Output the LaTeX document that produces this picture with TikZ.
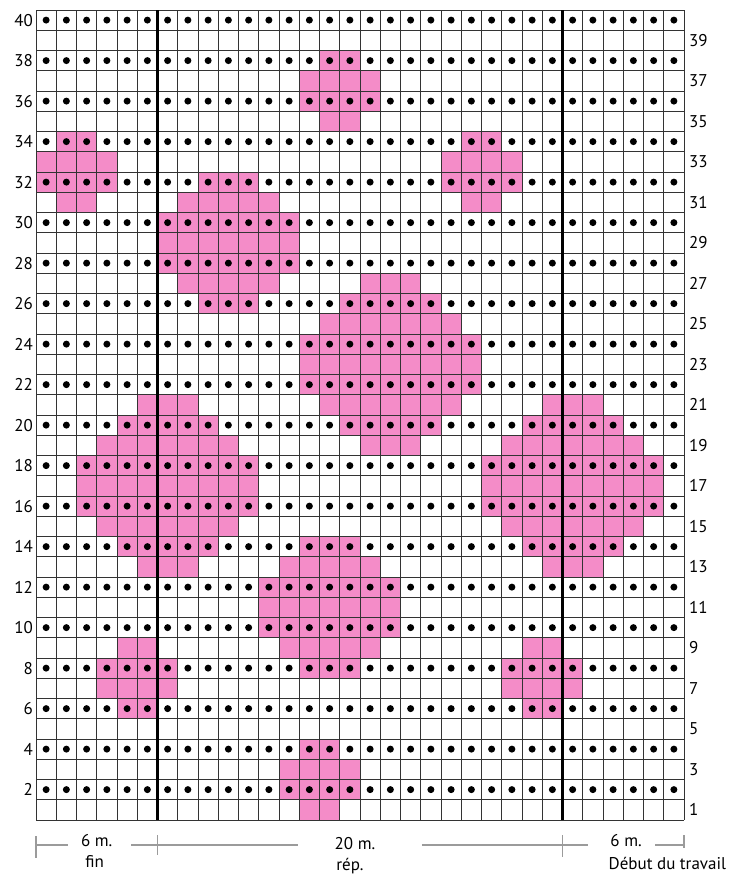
\documentclass[tikz,border=0pt]{standalone}
\usepackage{fontspec}
\setmainfont{PT Sans}

\definecolor{motif}{RGB}{244,140,200}
\definecolor{cote}{RGB}{155,155,155}

\tikzset{
  gridline/.style={black!80, line width=0.9pt},
  repline/.style={black, line width=2.2pt},
  rowlbl/.style={font=\fontsize{17}{17}\selectfont, inner sep=0pt},
  dimlbl/.style={font=\fontsize{17}{17}\selectfont, inner sep=0pt, anchor=base},
  dimline/.style={cote, line width=2pt},
  dimtick/.style={cote, line width=1.4pt},
}

\begin{document}
\begin{tikzpicture}[x=1pt, y=1pt]
\useasboundingbox (0,0) rectangle (731,874);

\begin{scope}[shift={(36pt,54pt)}, x=20.25pt, y=20.25pt]

% ---- Pink motifs (row/first/last stitch) ----
\foreach \r/\a/\b in {
  38/15/16, 37/14/17, 36/14/17, 35/15/16,
  34/2/3, 33/1/4, 32/1/4, 31/2/3,
  34/22/23, 33/21/24, 32/21/24, 31/22/23,
  32/9/11, 31/8/12, 30/7/13, 29/7/13, 28/7/13, 27/8/12, 26/9/11,
  27/17/19, 26/16/20, 25/15/21, 24/14/22, 23/14/22, 22/14/22, 21/15/21, 20/16/20, 19/17/19,
  21/6/8, 20/5/9, 19/4/10, 18/3/11, 17/3/11, 16/3/11, 15/4/10, 14/5/9, 13/6/8,
  21/26/28, 20/25/29, 19/24/30, 18/23/31, 17/23/31, 16/23/31, 15/24/30, 14/25/29, 13/26/28,
  14/14/16, 13/13/17, 12/12/18, 11/12/18, 10/12/18, 9/13/17, 8/14/16,
  9/5/6, 8/4/7, 7/4/7, 6/5/6,
  9/25/26, 8/24/27, 7/24/27, 6/25/26,
  4/14/15, 3/13/16, 2/13/16, 1/14/15}
  \fill[motif] (\a-1,\r-1) rectangle (\b,\r);

% ---- Grid ----
\foreach \c in {0,...,32}
  \draw[gridline] (\c,0) -- (\c,40);
\foreach \r in {0,...,40}
  \draw[gridline] (0,\r) -- (32,\r);
\draw[repline] (6,0) -- (6,40);
\draw[repline] (26,0) -- (26,40);

% ---- Dots on even rows ----
\foreach \r in {2,4,...,40}
  \foreach \c in {1,...,32}
    \fill (\c-0.5,\r-0.5) circle (3.5pt);

% ---- Row numbers ----
\foreach \r in {2,4,...,40}
  \node[rowlbl, anchor=base east, xshift=-3pt, yshift=-6pt] (l\r) at (0,\r-0.5) {\r};
\foreach \r in {1,3,...,39}
  \node[rowlbl, anchor=base west, xshift=5pt, yshift=-6pt] (r\r) at (32,\r-0.5) {\r};

% ---- Stitch counts ----
\coordinate (t0) at (0,-1.235);
\coordinate (t1) at (6,-1.235);
\coordinate (t2) at (26,-1.235);
\coordinate (t3) at (32,-1.235);
\coordinate (g1) at (1.58,-1.235);
\coordinate (g2) at (4.7,-1.235);
\coordinate (g3) at (12.94,-1.235);
\coordinate (g4) at (19.05,-1.235);
\coordinate (g5) at (27.26,-1.235);
\coordinate (g6) at (30.57,-1.235);

\draw[dimline] (t0) -- (g1) (g2) -- (t1) -- (g3) (g4) -- (t2) -- (g5) (g6) -- (t3);
\draw[dimtick] ([yshift=9pt]t0) -- ([yshift=-13pt]t0);
\draw[dimtick] ([yshift=10pt]t1) -- ([yshift=-10pt]t1);
\draw[dimtick] ([yshift=10pt]t2) -- ([yshift=-12pt]t2);
\draw[dimtick] ([yshift=10pt]t3) -- ([yshift=-3pt]t3);

\node[dimlbl] (wfin) at (3,-1.333) {6 m.};
\node[dimlbl] (lfin) at (2.9,-2.37) {fin};
\node[dimlbl] (wrep) at (15.75,-1.48) {20 m.};
\node[dimlbl] (lrep) at (15.5,-2.47) {rép.};
\node[dimlbl] (wdeb) at (29.14,-1.333) {6 m.};
\node[dimlbl] (ldeb) at (31.18,-2.42) {Début du travail};

\end{scope}
\end{tikzpicture}
\end{document}
